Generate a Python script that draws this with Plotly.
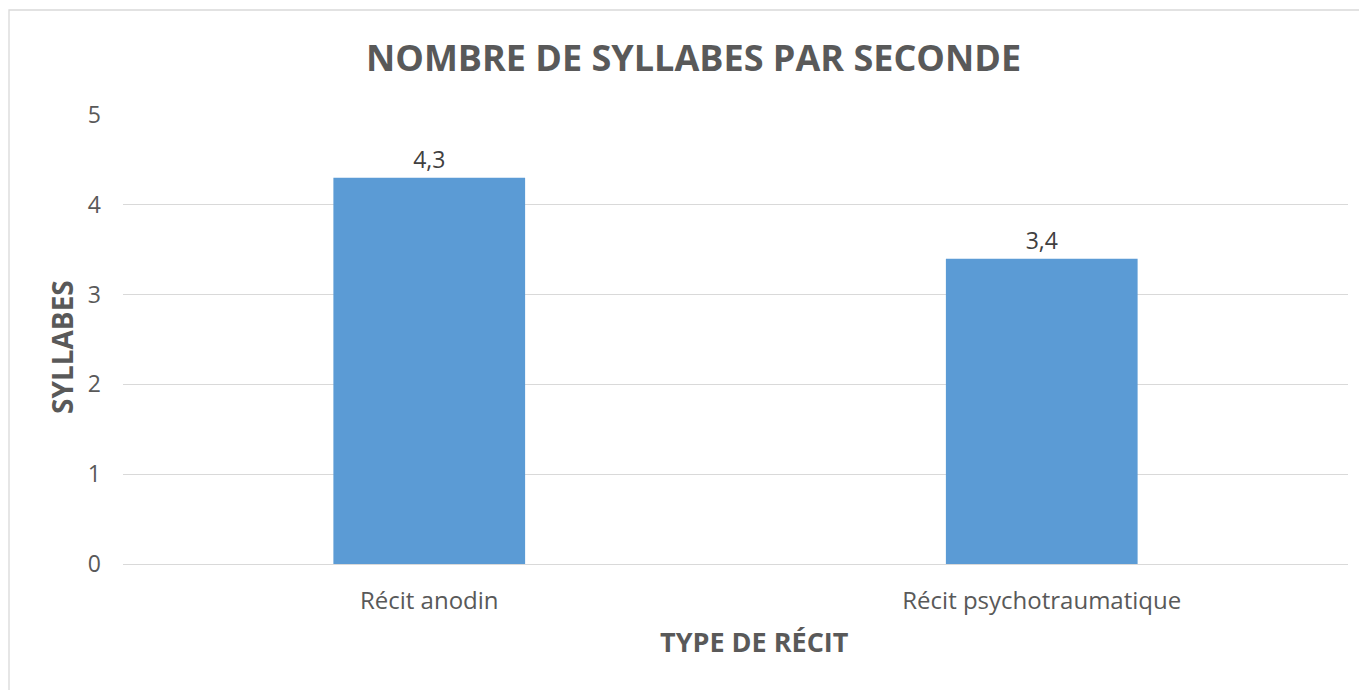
import plotly.graph_objects as go

categories = ["Récit anodin", "Récit psychotraumatique"]
values = [4.3, 3.4]
y_ticks = [0, 1, 2, 3, 4, 5]

W, H = 1367, 690
OFF = 8  # default page body margin shifts the figure by 8px
# target pixel positions in the page
plot_left, plot_right, plot_top, plot_bottom = 123, 1348, 115, 564
ml = plot_left - OFF
mt = plot_top - OFF
mr = W - (plot_right - OFF)
mb = H - (plot_bottom - OFF)
pw = W - ml - mr
ph = H - mt - mb

FONT = "Open Sans"

fig = go.Figure()
fig.add_trace(go.Bar(
    x=categories, y=values,
    marker=dict(color="#5B9BD5", line=dict(width=0)),
    width=0.313,
    text=[f"{v:.1f}".replace(".", ",") for v in values],
    textposition="outside",
    textfont=dict(family=FONT, size=23, color="#404040"),
    cliponaxis=False,
))

def px_x(px):
    return (px - OFF - ml) / pw

def px_y(py):
    return (H - mb - (py - OFF)) / ph

fig.update_layout(
    width=W, height=H,
    margin=dict(l=ml, r=mr, t=mt, b=mb),
    paper_bgcolor="white", plot_bgcolor="white",
    separators=",.",
    showlegend=False,
    xaxis=dict(
        showgrid=False, showline=False, zeroline=False,
        tickfont=dict(family=FONT, size=24, color="#595959"),
        ticks="", ticklabelstandoff=20,
    ),
    yaxis=dict(
        range=[0, 5], tickvals=y_ticks, showgrid=True, gridcolor="#D9D9D9", gridwidth=1.3,
        zeroline=True, zerolinecolor="#D9D9D9", zerolinewidth=1.3,
        showline=False, ticks="",
        tickfont=dict(family=FONT, size=23, color="#595959"),
        ticklabelstandoff=21,
    ),
    shapes=[dict(
        type="rect", xref="paper", yref="paper",
        x0=px_x(9), x1=px_x(1400), y0=px_y(720), y1=px_y(10),
        line=dict(color="#D9D9D9", width=1.3), fillcolor="rgba(0,0,0,0)", layer="below",
    )],
    annotations=[
        dict(text="<b>NOMBRE DE SYLLABES PAR SECONDE</b>", xref="paper", yref="paper",
             x=px_x(693), y=px_y(57), showarrow=False, xanchor="center", yanchor="middle",
             font=dict(family=FONT, size=36, color="#595959")),
        dict(text="<b>TYPE DE RÉCIT</b>", xref="paper", yref="paper",
             x=px_x(754), y=px_y(641), showarrow=False, xanchor="center", yanchor="middle",
             font=dict(family=FONT, size=27, color="#595959")),
        dict(text="<b>SYLLABES</b>", xref="paper", yref="paper",
             x=px_x(62), y=px_y(347), showarrow=False, xanchor="center", yanchor="middle",
             textangle=-90,
             font=dict(family=FONT, size=28, color="#595959")),
    ],
)

fig.write_html("out.html")
